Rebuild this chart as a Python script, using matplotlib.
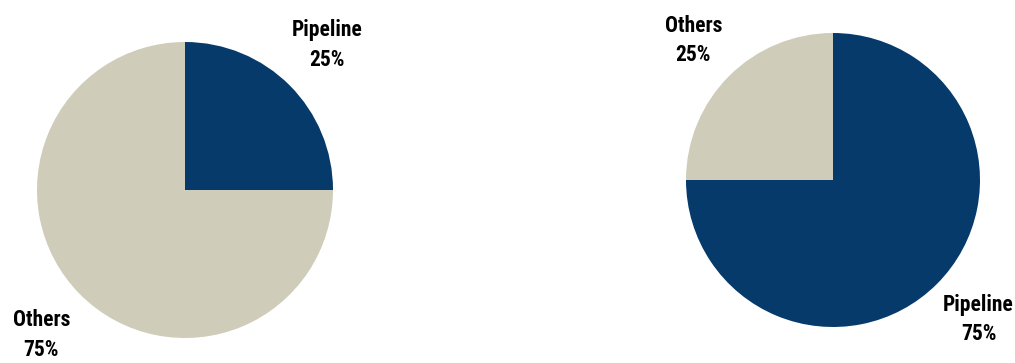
import matplotlib.pyplot as plt
from matplotlib import font_manager

# share of pipeline vs other transport, two scenarios
labels_left = ["Pipeline", "Others"]
shares_left = [25, 75]
labels_right = ["Others", "Pipeline"]
shares_right = [25, 75]

colors = {"Pipeline": "#053A6B", "Others": "#CFCCBA"}

# prefer a narrow bold face for the labels
names = {f.name for f in font_manager.fontManager.ttflist}
stretchy = {(f.name, f.stretch) for f in font_manager.fontManager.ttflist}
family, stretch = 'DejaVu Sans', 'normal'
for cand in ['Roboto Condensed', 'Liberation Sans Narrow', 'Open Sans Condensed',
             'Noto Sans Condensed']:
    if cand in names:
        family = cand
        break
else:
    for name, st in stretchy:
        if name in ('Roboto', 'Noto Sans', 'Open Sans', 'DejaVu Sans') and st in ('condensed', 'semi-condensed', 'extra-condensed', 75, 87, 62):
            family, stretch = name, st
            break

W, H = 1015, 363
fig = plt.figure(figsize=(W / 100, H / 100), dpi=100)


def pie_axes(cx, cy, r):
    # axes box in pixels around a pie centre
    return fig.add_axes([(cx - r) / W, (H - cy - r) / H, 2 * r / W, 2 * r / H])


def draw(ax, labels, shares, counterclock, label_pos):
    ax.pie(shares, colors=[colors[l] for l in labels], startangle=90,
           counterclock=counterclock, radius=1,
           wedgeprops=dict(linewidth=0))
    ax.set_xlim(-1, 1)
    ax.set_ylim(-1, 1)
    ax.set_aspect('equal')
    ax.axis('off')
    for lab, val, (x, y) in zip(labels, shares, label_pos):
        ax.text(x, y, f"{lab}\n{val}%", ha='center', va='center',
                fontsize=15.5, fontweight='bold', linespacing=1.45,
                family=family, fontstretch=stretch, clip_on=False)


ax1 = pie_axes(185, 190, 148)
draw(ax1, labels_left, shares_left, False, [(0.96, 0.98), (-0.97, -0.98)])

ax2 = pie_axes(833, 180, 147)
draw(ax2, labels_right, shares_right, True, [(-0.95, 0.95), (0.99, -0.95)])

fig.savefig("out.png", dpi=100)
